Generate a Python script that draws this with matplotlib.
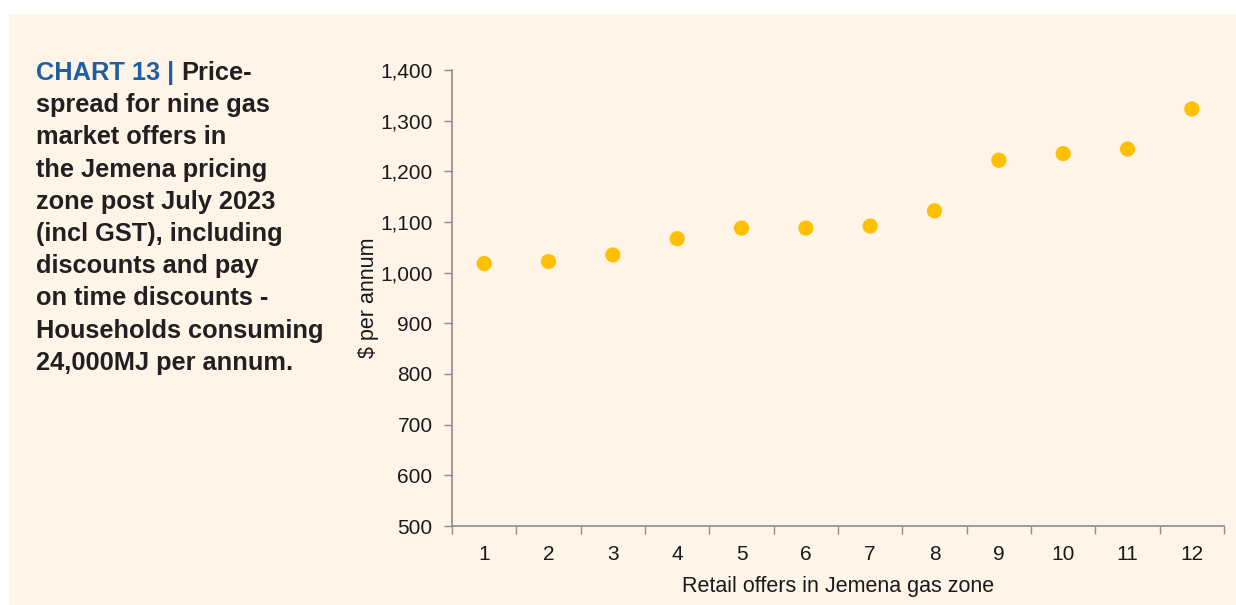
import matplotlib.pyplot as plt
from matplotlib.patches import Rectangle
from matplotlib.ticker import FuncFormatter

# offers in the Jemena gas zone, $ per annum
offers = [1, 2, 3, 4, 5, 6, 7, 8, 9, 10, 11, 12]
prices = [1018, 1022, 1035, 1067, 1088, 1088, 1092, 1122, 1222, 1235, 1244, 1323]
y_ticks = [500, 600, 700, 800, 900, 1000, 1100, 1200, 1300, 1400]

title_blue = 'CHART 13 |'
title_lines = ['Price-',
               'spread for nine gas',
               'market offers in',
               'the Jemena pricing',
               'zone post July 2023',
               '(incl GST), including',
               'discounts and pay',
               'on time discounts -',
               'Households consuming',
               '24,000MJ per annum.']

plt.rcParams['font.family'] = ['Liberation Sans', 'DejaVu Sans']

W, H = 1236, 605
fig = plt.figure(figsize=(W / 100, H / 100), dpi=100, facecolor='white')
cream = '#fef4e8'
fig.patches.append(Rectangle((9 / W, 0), 1 - 9 / W, 1 - 14 / H, transform=fig.transFigure,
                             facecolor=cream, edgecolor='none', zorder=-10))

ax = fig.add_axes([452 / W, 1 - 526 / H, (1224 - 452) / W, (526 - 70) / H])
ax.set_facecolor('none')

ax.scatter(offers, prices, s=120, color='#ffc000', edgecolors='none', zorder=3, clip_on=False)

ax.set_xlim(0.5, 12.5)
ax.set_ylim(500, 1400)
ax.set_yticks(y_ticks)
ax.yaxis.set_major_formatter(FuncFormatter(lambda v, p: f'{int(v):,}'))
ax.set_xticks(offers)
ax.set_xticks([o + 0.5 for o in [0] + offers], minor=True)

grey = '#8c8c8c'
for s in ['top', 'right']:
    ax.spines[s].set_visible(False)
for s in ['left', 'bottom']:
    ax.spines[s].set_color(grey)
    ax.spines[s].set_linewidth(1.2)

ax.tick_params(axis='y', direction='out', length=6, width=1, color=grey,
               labelsize=15, labelcolor='#1a1a1a', pad=8)
ax.tick_params(axis='x', which='major', length=0, labelsize=15, labelcolor='#1a1a1a', pad=14)
ax.tick_params(axis='x', which='minor', direction='out', length=6, width=1, color=grey)

ax.set_xlabel('Retail offers in Jemena gas zone', fontsize=15.5, color='#1a1a1a', labelpad=8)
ax.set_ylabel('$ per annum', fontsize=15.5, color='#1a1a1a', labelpad=0.5)

# title block on the left
x0 = 36 / W
y_top = 1 - 73 / H
step = 32.2 / H
fs = 18.3
t = fig.text(x0, y_top, title_blue + ' ', fontsize=fs, fontweight='bold', color='#1f5fa0', va='center')
fig.canvas.draw()
bb = t.get_window_extent()
fig.text(bb.x1 / W, y_top, title_lines[0], fontsize=fs, fontweight='bold', color='#231f20', va='center')
for i, line in enumerate(title_lines[1:], start=1):
    fig.text(x0, y_top - i * step, line, fontsize=fs, fontweight='bold', color='#231f20', va='center')

fig.savefig('out.png', dpi=100, facecolor='white')
